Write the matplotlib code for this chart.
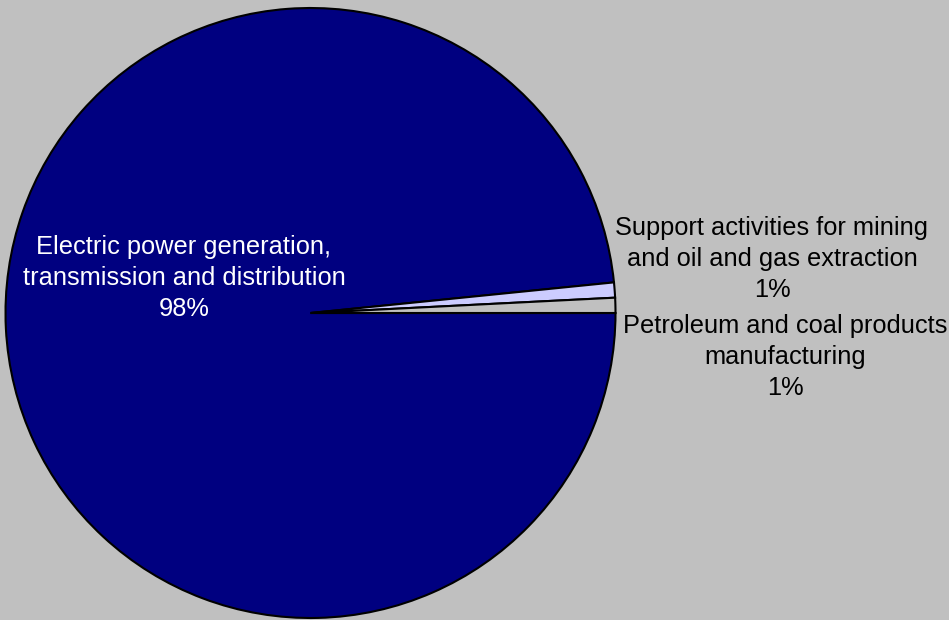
import matplotlib.pyplot as plt

plt.rcParams['font.family'] = ['Liberation Sans', 'DejaVu Sans']

BG_COLOR = '#c0c0c0'

labels = ['Electric power generation,\ntransmission and distribution',
          'Support activities for mining\nand oil and gas extraction',
          'Petroleum and coal products\nmanufacturing']
shares = [98.4, 0.8, 0.8]
pct_labels = ['98%', '1%', '1%']
colors = ['#000080', '#ccccff', '#c0c0c0']
text_colors = ['white', 'black', 'black']

fig = plt.figure(figsize=(9.49, 6.2), dpi=100, facecolor=BG_COLOR)
ax = fig.add_axes([5.5 / 949, 2 / 620, 610 / 949, 610 / 620])
ax.set_facecolor(BG_COLOR)

ax.pie(shares, colors=colors, startangle=0, counterclock=False,
       wedgeprops=dict(edgecolor='black', linewidth=1.5))
ax.set_xlim(-1, 1)
ax.set_ylim(-1, 1)
ax.set_aspect('equal')
ax.axis('off')

# label positions in pie coordinates
label_pos = [(-0.415, 0.115), (1.513, 0.177), (1.556, -0.145)]
for lab, pct, (x, y), tc in zip(labels, pct_labels, label_pos, text_colors):
    ax.text(x, y, f'{lab}\n{pct}', ha='center', va='center', color=tc,
            fontsize=18.3, linespacing=1.38, clip_on=False)

fig.savefig('out.png', dpi=100, facecolor=BG_COLOR)
